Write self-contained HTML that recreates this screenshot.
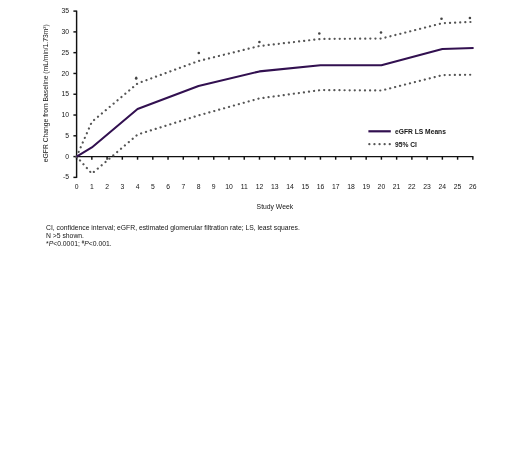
<!DOCTYPE html>
<html><head><meta charset="utf-8"><title>eGFR chart</title>
<style>
html,body{margin:0;padding:0;background:#fff;}
body{width:520px;height:451px;position:relative;overflow:hidden;font-family:"Liberation Sans",sans-serif;}
</style></head><body>
<svg width="520" height="451" viewBox="0 0 520 451" style="position:absolute;left:0;top:0;filter:blur(0.3px)">
<g stroke="#111" stroke-width="1.45" fill="none" stroke-linecap="butt">
<line x1="76.60" y1="10.60" x2="76.60" y2="177.88" />
<line x1="76.60" y1="156.60" x2="473.34" y2="156.60" />
<line x1="73.40" y1="177.38" x2="76.60" y2="177.38" />
<line x1="73.40" y1="156.60" x2="76.60" y2="156.60" />
<line x1="73.40" y1="135.81" x2="76.60" y2="135.81" />
<line x1="73.40" y1="115.03" x2="76.60" y2="115.03" />
<line x1="73.40" y1="94.24" x2="76.60" y2="94.24" />
<line x1="73.40" y1="73.46" x2="76.60" y2="73.46" />
<line x1="73.40" y1="52.67" x2="76.60" y2="52.67" />
<line x1="73.40" y1="31.89" x2="76.60" y2="31.89" />
<line x1="73.40" y1="11.10" x2="76.60" y2="11.10" />
<line x1="76.60" y1="156.60" x2="76.60" y2="159.70" />
<line x1="91.84" y1="156.60" x2="91.84" y2="159.70" />
<line x1="107.08" y1="156.60" x2="107.08" y2="159.70" />
<line x1="122.32" y1="156.60" x2="122.32" y2="159.70" />
<line x1="137.56" y1="156.60" x2="137.56" y2="159.70" />
<line x1="152.80" y1="156.60" x2="152.80" y2="159.70" />
<line x1="168.04" y1="156.60" x2="168.04" y2="159.70" />
<line x1="183.28" y1="156.60" x2="183.28" y2="159.70" />
<line x1="198.52" y1="156.60" x2="198.52" y2="159.70" />
<line x1="213.76" y1="156.60" x2="213.76" y2="159.70" />
<line x1="229.00" y1="156.60" x2="229.00" y2="159.70" />
<line x1="244.24" y1="156.60" x2="244.24" y2="159.70" />
<line x1="259.48" y1="156.60" x2="259.48" y2="159.70" />
<line x1="274.72" y1="156.60" x2="274.72" y2="159.70" />
<line x1="289.96" y1="156.60" x2="289.96" y2="159.70" />
<line x1="305.20" y1="156.60" x2="305.20" y2="159.70" />
<line x1="320.44" y1="156.60" x2="320.44" y2="159.70" />
<line x1="335.68" y1="156.60" x2="335.68" y2="159.70" />
<line x1="350.92" y1="156.60" x2="350.92" y2="159.70" />
<line x1="366.16" y1="156.60" x2="366.16" y2="159.70" />
<line x1="381.40" y1="156.60" x2="381.40" y2="159.70" />
<line x1="396.64" y1="156.60" x2="396.64" y2="159.70" />
<line x1="411.88" y1="156.60" x2="411.88" y2="159.70" />
<line x1="427.12" y1="156.60" x2="427.12" y2="159.70" />
<line x1="442.36" y1="156.60" x2="442.36" y2="159.70" />
<line x1="457.60" y1="156.60" x2="457.60" y2="159.70" />
<line x1="472.84" y1="156.60" x2="472.84" y2="159.70" />
</g>
<g fill="#151515" font-family="Liberation Sans, sans-serif" font-size="6.8">
<text x="69" y="179.48" text-anchor="end">-5</text>
<text x="69" y="158.70" text-anchor="end">0</text>
<text x="69" y="137.91" text-anchor="end">5</text>
<text x="69" y="117.13" text-anchor="end">10</text>
<text x="69" y="96.34" text-anchor="end">15</text>
<text x="69" y="75.56" text-anchor="end">20</text>
<text x="69" y="54.77" text-anchor="end">25</text>
<text x="69" y="33.99" text-anchor="end">30</text>
<text x="69" y="13.20" text-anchor="end">35</text>
<text x="76.60" y="189.1" text-anchor="middle">0</text>
<text x="91.84" y="189.1" text-anchor="middle">1</text>
<text x="107.08" y="189.1" text-anchor="middle">2</text>
<text x="122.32" y="189.1" text-anchor="middle">3</text>
<text x="137.56" y="189.1" text-anchor="middle">4</text>
<text x="152.80" y="189.1" text-anchor="middle">5</text>
<text x="168.04" y="189.1" text-anchor="middle">6</text>
<text x="183.28" y="189.1" text-anchor="middle">7</text>
<text x="198.52" y="189.1" text-anchor="middle">8</text>
<text x="213.76" y="189.1" text-anchor="middle">9</text>
<text x="229.00" y="189.1" text-anchor="middle">10</text>
<text x="244.24" y="189.1" text-anchor="middle">11</text>
<text x="259.48" y="189.1" text-anchor="middle">12</text>
<text x="274.72" y="189.1" text-anchor="middle">13</text>
<text x="289.96" y="189.1" text-anchor="middle">14</text>
<text x="305.20" y="189.1" text-anchor="middle">15</text>
<text x="320.44" y="189.1" text-anchor="middle">16</text>
<text x="335.68" y="189.1" text-anchor="middle">17</text>
<text x="350.92" y="189.1" text-anchor="middle">18</text>
<text x="366.16" y="189.1" text-anchor="middle">19</text>
<text x="381.40" y="189.1" text-anchor="middle">20</text>
<text x="396.64" y="189.1" text-anchor="middle">21</text>
<text x="411.88" y="189.1" text-anchor="middle">22</text>
<text x="427.12" y="189.1" text-anchor="middle">23</text>
<text x="442.36" y="189.1" text-anchor="middle">24</text>
<text x="457.60" y="189.1" text-anchor="middle">25</text>
<text x="472.84" y="189.1" text-anchor="middle">26</text>
</g>
<polyline points="76.60,156.60 91.84,121.89 137.56,83.44 198.52,60.99 259.48,46.02 320.44,38.96 381.40,38.54 442.36,23.16 472.84,21.91" fill="none" stroke="#555" stroke-width="2.2" stroke-dasharray="0.1 5.0" stroke-linecap="round"/>
<polyline points="76.60,156.60 91.84,173.64 137.56,134.57 198.52,115.45 259.48,98.40 320.44,90.09 381.40,90.50 442.36,75.12 472.84,74.71" fill="none" stroke="#555" stroke-width="2.2" stroke-dasharray="0.1 5.0" stroke-linecap="round"/>
<polyline points="76.60,156.60 91.84,147.45 137.56,109.00 198.52,85.93 259.48,71.38 320.44,65.15 381.40,65.15 442.36,48.93 473.60,48.10" fill="none" stroke="#321050" stroke-width="2.05" stroke-linejoin="round"/>
<g fill="#444" font-family="Liberation Sans, sans-serif">
<ellipse cx="136.2" cy="78.2" rx="1.3" ry="1.6"/>
<ellipse cx="198.8" cy="52.9" rx="1.3" ry="1.25"/>
<ellipse cx="259.4" cy="42.0" rx="1.3" ry="1.25"/>
<ellipse cx="319.3" cy="33.4" rx="1.3" ry="1.25"/>
<ellipse cx="381.0" cy="32.6" rx="1.3" ry="1.25"/>
<ellipse cx="441.5" cy="18.8" rx="1.3" ry="1.25"/>
<ellipse cx="469.9" cy="18.1" rx="1.3" ry="1.25"/>
</g>
<!-- legend -->
<line x1="368.4" y1="131.3" x2="390.8" y2="131.3" stroke="#321050" stroke-width="2.2"/>
<line x1="369.3" y1="144.2" x2="391" y2="144.2" stroke="#555" stroke-width="2.2" stroke-dasharray="0.1 5.0" stroke-linecap="round"/>
<g font-family="Liberation Sans, sans-serif" font-size="6.7" fill="#151515" font-weight="bold">
<text x="395" y="133.8">eGFR LS Means</text>
<text x="395" y="146.8">95% CI</text>
</g>
<g font-family="Liberation Sans, sans-serif" font-size="6.8" fill="#151515">
<text x="256.6" y="208.5">Study Week</text>
<text transform="translate(47.9,162.2) rotate(-90)" font-size="6.75">eGFR Change from Baseline (mL/min/1.73m<tspan font-size="4" dy="-2.3">2</tspan><tspan dy="2.3">)</tspan></text>
<text x="46" y="229.5">CI, confidence interval; eGFR, estimated glomerular filtration rate; LS, least squares.</text>
<text x="46" y="237.5">N &gt;5 shown.</text>
<text x="46" y="245.7">*<tspan font-style="italic">P</tspan>&lt;0.0001; <tspan font-size="4.5" dy="-2">#</tspan><tspan dy="2" font-style="italic">P</tspan>&lt;0.001.</text>
</g>
</svg>
</body></html>
